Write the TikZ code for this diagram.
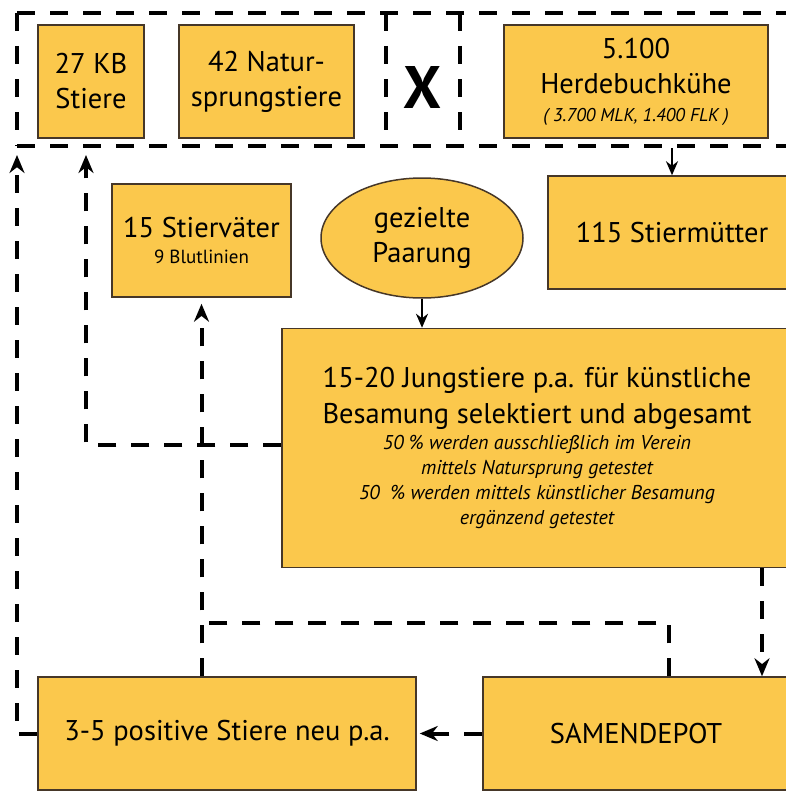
\documentclass[tikz,border=0pt]{standalone}
\usepackage{fontspec}
\setmainfont{PT Sans}
\usetikzlibrary{arrows.meta,shapes.geometric}
\definecolor{boxfill}{RGB}{251,200,76}
\definecolor{boxline}{RGB}{70,55,40}
\begin{document}
\begin{tikzpicture}[x=1pt,y=-1pt,
  box/.style={draw=boxline,line width=1.5pt,fill=boxfill,align=center,inner sep=0pt,
    font=\fontsize{28.5}{35}\selectfont},
  dline/.style={line width=4pt,dash pattern=on 18pt off 15pt},
  bigtip/.style={-{Stealth[length=18pt,width=15pt]}},
  smalltip/.style={line width=2.2pt,-{Stealth[length=14pt,width=12pt]}}]
\useasboundingbox (0,0) rectangle (786,792);
\clip (0,0) rectangle (786,792);

% frame
\coordinate (fTL) at (17,13);
\coordinate (fBL) at (17,146);
\coordinate (fTR) at (820,13);
\coordinate (fBR) at (820,146);
\coordinate (d1t) at (386,13);
\coordinate (d1b) at (386,146);
\coordinate (d2t) at (460,13);
\coordinate (d2b) at (460,146);
\draw[dline] (fTL) -- (fTR);
\draw[dline] (fBL) -- (fBR);
\draw[dline] (fTL) -- (fBL);
\draw[dline] (d1t) -- (d1b);
\draw[dline] (d2t) -- (d2b);

% nodes
\node[box,minimum width=106pt,minimum height=113pt] (kb) at (91,81.5) {27 KB\\Stiere};
\node[box,minimum width=175pt,minimum height=113pt] (nat) at (266.5,81.5) {42 Natur-\\sprungstiere};
\node[font=\fontsize{60}{60}\selectfont\bfseries,inner sep=0pt] (x) at (422,87) {X};
\node[box,minimum width=264pt,minimum height=113pt] (herde) at (636,81.5)
  {5.100\\Herdebuchkühe\\[-7pt]{\fontsize{18.5}{22}\selectfont\itshape ( 3.700 MLK, 1.400 FLK )}};
\node[box,minimum width=248pt,minimum height=113pt] (mut) at (672,232.5) {115 Stiermütter};
\node[box,minimum width=179pt,minimum height=113pt] (vater) at (201.5,240.5)
  {15 Stierväter\\[-9pt]{\fontsize{19}{22}\selectfont 9 Blutlinien}};
\node[box,ellipse,minimum width=202pt,minimum height=120pt] (par) at (422,238) {gezielte\\Paarung};
\node[box,minimum width=510pt,minimum height=239pt] (big) at (537,448)
  {15-20 Jungstiere p.a. für künstliche\\[1pt]Besamung selektiert und abgesamt\\[-9pt]
   {\fontsize{20}{25}\selectfont\itshape 50 \% werden ausschließlich im Verein}\\[-10pt]
   {\fontsize{20}{25}\selectfont\itshape mittels Natursprung getestet}\\[-10pt]
   {\fontsize{20}{25}\selectfont\itshape 50 \ \% werden mittels künstlicher Besamung}\\[-10pt]
   {\fontsize{20}{25}\selectfont\itshape ergänzend getestet}};
\node[box,minimum width=306pt,minimum height=113pt] (samen) at (636,733.5) {SAMENDEPOT};
\node[box,minimum width=378pt,minimum height=113pt] (pos) at (227,733.5) {3-5 positive Stiere neu p.a.};

% connector helper coordinates
\coordinate (fa1) at (17,155);
\coordinate (fa2) at (86,155);
\coordinate (fb) at (0,148);
\coordinate (jn) at (201,623);
\coordinate (sx) at (669,0);
\coordinate (bx) at (762,0);
\coordinate (by) at (0,445);

% connectors
\draw[dline,bigtip] (pos.west) -| (fa1);
\draw[dline,bigtip] (big.west |- by) -| (fa2);
\draw[dline,bigtip,shorten >=6pt] (vater.south |- pos.north) -- (vater.south);
\draw[dline] (samen.north -| sx) |- (jn);
\draw[dline,bigtip] (big.south -| bx) -- (samen.north -| bx);
\draw[dline,bigtip,shorten >=3pt] (samen.west) -- (pos.east);
\draw[smalltip] (mut.north |- fb) -- (mut.north);
\draw[smalltip] (par.south) -- (par.south |- big.north);
\end{tikzpicture}
\end{document}
